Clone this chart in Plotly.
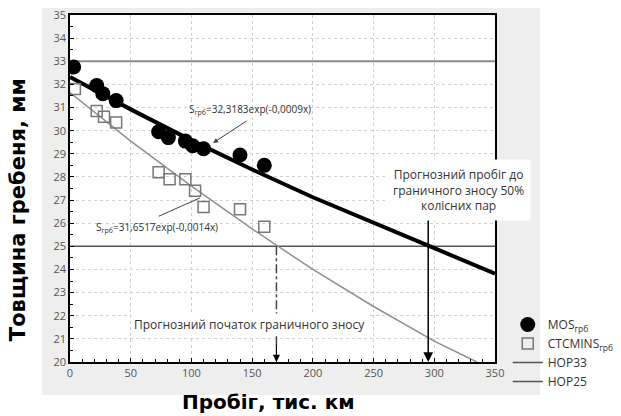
import plotly.graph_objects as go

# ---- data ----
mos_x = [3, 22, 27, 38, 73, 81, 95, 101, 110, 140, 160]
mos_y = [32.75, 31.95, 31.6, 31.3, 29.95, 29.7, 29.55, 29.35, 29.22, 28.95, 28.5]

ctc_x = [4, 22, 28, 38, 73, 82, 95, 103, 110, 140, 160]
ctc_y = [31.8, 30.85, 30.6, 30.35, 28.2, 27.9, 27.9, 27.4, 26.7, 26.6, 25.85]

mos_fit_x = [0, 50, 100, 150, 200, 250, 300, 350]
mos_fit_y = [32.32, 30.92, 29.58, 28.32, 27.12, 26.0, 24.92, 23.82]

ctc_fit_x = [0, 50, 100, 150, 200, 250, 300, 335]
ctc_fit_y = [31.65, 29.55, 27.6, 25.75, 24.0, 22.4, 20.9, 20.0]

hop33_x = [0, 350]
hop33_y = [33, 33]
hop25_x = [0, 350]
hop25_y = [25, 25]

x_ticks = [0, 50, 100, 150, 200, 250, 300, 350]
y_ticks = list(range(20, 36))

limit_start_x = 170
limit_mileage_x = 295

fig = go.Figure()

fig.add_trace(go.Scatter(x=hop33_x, y=hop33_y, mode="lines", name="HOP33",
                         line=dict(color="#8a8a8a", width=2), showlegend=False))
fig.add_trace(go.Scatter(x=hop25_x, y=hop25_y, mode="lines", name="HOP25",
                         line=dict(color="#555555", width=1.5), showlegend=False))
fig.add_trace(go.Scatter(x=ctc_fit_x, y=ctc_fit_y, mode="lines", showlegend=False,
                         line=dict(color="#8f8f8f", width=1.5)))
fig.add_trace(go.Scatter(x=mos_fit_x, y=mos_fit_y, mode="lines", showlegend=False,
                         line=dict(color="black", width=4)))
fig.add_trace(go.Scatter(x=mos_x, y=mos_y, mode="markers", name="MOS<sub>грб</sub>",
                         marker=dict(symbol="circle", size=15, color="black")))
fig.add_trace(go.Scatter(x=ctc_x, y=ctc_y, mode="markers", name="CTCMINS<sub>грб</sub>",
                         marker=dict(symbol="square-open", size=11, color="#777777",
                                     line=dict(width=1.5))))
fig.add_trace(go.Scatter(x=[None], y=[None], mode="lines", name="HOP33",
                         line=dict(color="#555555", width=1.5)))
fig.add_trace(go.Scatter(x=[None], y=[None], mode="lines", name="HOP25",
                         line=dict(color="#555555", width=1.5)))

shapes = [
    dict(type="rect", xref="paper", yref="paper", x0=-0.066, x1=1.106, y0=-0.095, y1=1.02,
         fillcolor="#eeeeee", line=dict(width=0), layer="below"),
    dict(type="rect", xref="x domain", yref="y domain", x0=0, x1=1, y0=0, y1=1,
         fillcolor="white", line=dict(width=0), layer="below"),
    dict(type="line", xref="x", yref="y", x0=limit_start_x, x1=limit_start_x, y0=25, y1=20.6,
         line=dict(color="#444444", width=1.5, dash="dashdot")),
]

ann_font = dict(family="Open Sans, Liberation Sans, sans-serif", size=12, color="#333333")
annotations = [
    # formula labels
    dict(x=117.8, y=29.47, ax=146.6, ay=30.46, axref="x", ayref="y", xref="x", yref="y",
         text="", showarrow=True, arrowhead=2, arrowsize=1, arrowwidth=1, arrowcolor="#444444"),
    dict(x=148, y=30.9, xref="x", yref="y", showarrow=False,
         text="S<sub>грб</sub>=32,3183exp(-0,0009x)",
         font=dict(family="Open Sans, sans-serif", size=10, color="#333333")),
    dict(x=107, y=27.09, ax=71.7, ay=26.27, axref="x", ayref="y", xref="x", yref="y",
         text="", showarrow=True, arrowhead=0, arrowwidth=1, arrowcolor="#444444"),
    dict(x=72, y=25.8, xref="x", yref="y", showarrow=False,
         text="S<sub>грб</sub>=31,6517exp(-0,0014x)",
         font=dict(family="Open Sans, sans-serif", size=10, color="#333333")),
    # prognosis arrows
    dict(x=limit_mileage_x, y=20, ax=limit_mileage_x, ay=26.2, axref="x", ayref="y",
         xref="x", yref="y", text="", showarrow=True, arrowhead=2, arrowsize=1.3,
         arrowwidth=1.5, arrowcolor="black"),
    dict(x=limit_start_x, y=20, ax=limit_start_x, ay=20.8, axref="x", ayref="y",
         xref="x", yref="y", text="", showarrow=True, arrowhead=2, arrowsize=1.2,
         arrowwidth=1.2, arrowcolor="black"),
    dict(x=319.6, y=27.43, xref="x", yref="y", showarrow=False,
         text="Прогнозний пробіг до<br>граничного зносу 50%<br>колісних пар",
         font=ann_font, bgcolor="white", borderpad=6),
    dict(x=148, y=21.6, xref="x", yref="y", showarrow=False,
         text="Прогнозний початок граничного зносу", font=ann_font, bgcolor="white", borderpad=2),
    # axis titles
    dict(x=-0.122, y=0.438, xref="paper", yref="paper", showarrow=False, textangle=-90,
         xanchor="center", yanchor="middle",
         text="<b>Товщина гребеня, мм</b>",
         font=dict(family="DejaVu Sans", size=21, color="black")),
    dict(x=0.466, y=-0.115, xref="paper", yref="paper", showarrow=False,
         xanchor="center", yanchor="middle",
         text="<b>Пробіг, тис. км</b>",
         font=dict(family="DejaVu Sans", size=20, color="black")),
]

fig.update_layout(
    width=621, height=416,
    margin=dict(l=70, r=126, t=15, b=54, autoexpand=False),
    paper_bgcolor="white", plot_bgcolor="white",
    shapes=shapes, annotations=annotations,
    legend=dict(x=1.03, y=0.15, xanchor="left", yanchor="top",
                bgcolor="rgba(0,0,0,0)", tracegroupgap=0,
                font=dict(family="Open Sans, sans-serif", size=12, color="#333333"),
                itemwidth=30),
)

axis_common = dict(showline=True, mirror=True, linecolor="black", linewidth=1.5,
                   showgrid=True, gridcolor="#d0d0d0", griddash="dot", gridwidth=1,
                   zeroline=False, ticks="inside", ticklen=4, tickcolor="black",
                   tickfont=dict(family="Open Sans, sans-serif", size=11, color="#555555"))

fig.update_xaxes(range=[0, 350], tickvals=x_ticks, **axis_common,
                 minor=dict(ticks="inside", ticklen=3, dtick=10, tickcolor="black", showgrid=False))
fig.update_yaxes(range=[20, 35], tickvals=y_ticks, **axis_common,
                 minor=dict(ticks="inside", ticklen=3, dtick=0.5, tickcolor="black", showgrid=False))

fig.write_html("out.html")
